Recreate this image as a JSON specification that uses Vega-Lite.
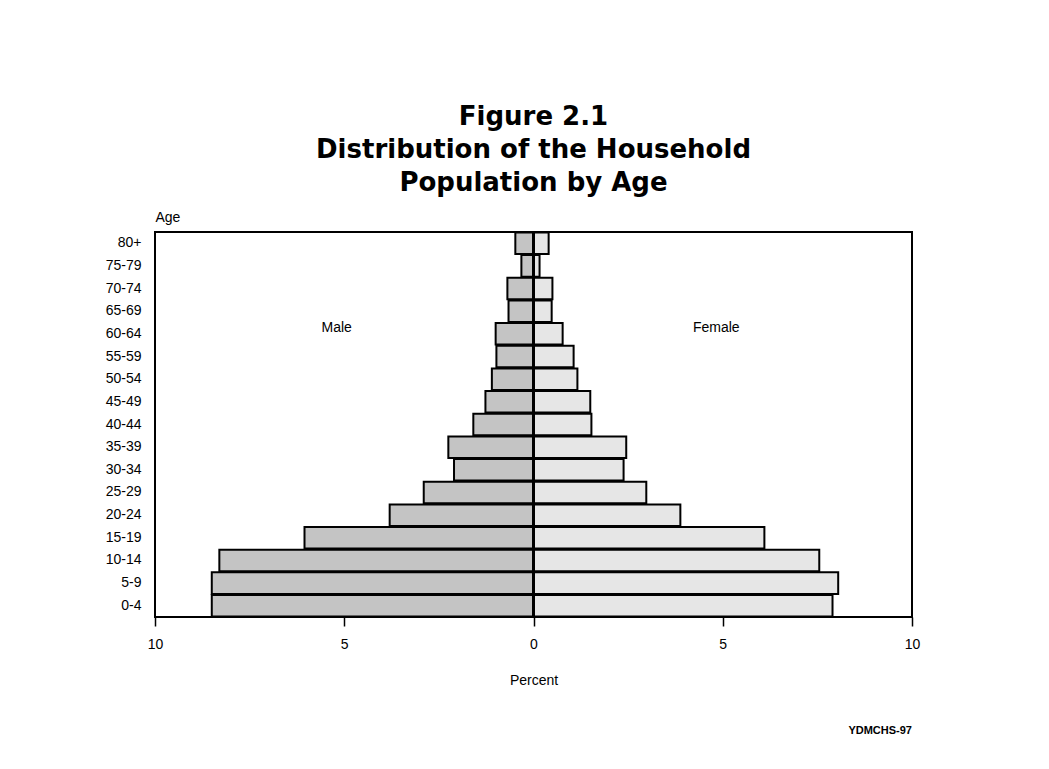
{
  "$schema": "https://vega.github.io/schema/vega-lite/v6.json",
  "width": 757,
  "height": 385,
  "autosize": {"type": "none"},
  "padding": {"left": 155, "top": 232, "right": 137, "bottom": 152},
  "background": "white",
  "title": {
    "text": ["Figure 2.1", "Distribution of the Household", "Population by Age"],
    "font": "DejaVu Sans",
    "fontSize": 26,
    "fontWeight": "bold",
    "lineHeight": 33,
    "anchor": "middle",
    "offset": 14,
    "color": "black"
  },
  "config": {
    "view": {"stroke": "black", "strokeWidth": 2},
    "font": "Liberation Sans",
    "axis": {"labelColor": "black", "titleColor": "black", "labelFont": "Liberation Sans", "titleFont": "Liberation Sans", "titleFontWeight": "normal"}
  },
  "data": {
    "values": [
      {"age": "80+", "sex": "Male", "value": -0.48},
      {"age": "75-79", "sex": "Male", "value": -0.32},
      {"age": "70-74", "sex": "Male", "value": -0.69},
      {"age": "65-69", "sex": "Male", "value": -0.66},
      {"age": "60-64", "sex": "Male", "value": -1.0},
      {"age": "55-59", "sex": "Male", "value": -0.98},
      {"age": "50-54", "sex": "Male", "value": -1.1},
      {"age": "45-49", "sex": "Male", "value": -1.27},
      {"age": "40-44", "sex": "Male", "value": -1.59},
      {"age": "35-39", "sex": "Male", "value": -2.25},
      {"age": "30-34", "sex": "Male", "value": -2.1},
      {"age": "25-29", "sex": "Male", "value": -2.9},
      {"age": "20-24", "sex": "Male", "value": -3.8},
      {"age": "15-19", "sex": "Male", "value": -6.05},
      {"age": "10-14", "sex": "Male", "value": -8.3},
      {"age": "5-9", "sex": "Male", "value": -8.5},
      {"age": "0-4", "sex": "Male", "value": -8.5},
      {"age": "80+", "sex": "Female", "value": 0.4},
      {"age": "75-79", "sex": "Female", "value": 0.16},
      {"age": "70-74", "sex": "Female", "value": 0.5},
      {"age": "65-69", "sex": "Female", "value": 0.48},
      {"age": "60-64", "sex": "Female", "value": 0.77},
      {"age": "55-59", "sex": "Female", "value": 1.06},
      {"age": "50-54", "sex": "Female", "value": 1.16},
      {"age": "45-49", "sex": "Female", "value": 1.5},
      {"age": "40-44", "sex": "Female", "value": 1.53},
      {"age": "35-39", "sex": "Female", "value": 2.45},
      {"age": "30-34", "sex": "Female", "value": 2.38},
      {"age": "25-29", "sex": "Female", "value": 2.98},
      {"age": "20-24", "sex": "Female", "value": 3.88},
      {"age": "15-19", "sex": "Female", "value": 6.1},
      {"age": "10-14", "sex": "Female", "value": 7.55},
      {"age": "5-9", "sex": "Female", "value": 8.05},
      {"age": "0-4", "sex": "Female", "value": 7.9}
    ]
  },
  "encoding": {
    "y": {
      "field": "age",
      "type": "nominal",
      "sort": ["80+", "75-79", "70-74", "65-69", "60-64", "55-59", "50-54", "45-49", "40-44", "35-39", "30-34", "25-29", "20-24", "15-19", "10-14", "5-9", "0-4"],
      "scale": {"paddingInner": 0.05, "paddingOuter": 0.02},
      "axis": {
        "title": "Age",
        "titleAngle": 0,
        "titleX": 0,
        "titleY": -8,
        "titleAlign": "left",
        "titleBaseline": "bottom",
        "titleFontSize": 14,
        "ticks": false,
        "domain": false,
        "labelFontSize": 14,
        "labelPadding": 14
      }
    }
  },
  "layer": [
    {
      "mark": {"type": "bar", "stroke": "black", "strokeWidth": 2},
      "encoding": {
        "x": {
          "field": "value",
          "type": "quantitative",
          "scale": {"domain": [-10, 10], "nice": false, "zero": false},
          "axis": {
            "values": [-10, -5, 0, 5, 10],
            "labelExpr": "abs(datum.value)",
            "labelFlush": false,
            "grid": false,
            "domain": false,
            "tickColor": "black",
            "tickSize": 9,
            "tickWidth": 1.5,
            "labelFontSize": 14,
            "labelPadding": 11,
            "title": "Percent",
            "titleFontSize": 14,
            "titlePadding": 22
          }
        },
        "fill": {
          "field": "sex",
          "type": "nominal",
          "scale": {"domain": ["Male", "Female"], "range": ["#c4c4c4", "#e6e6e6"]},
          "legend": null
        }
      }
    },
    {
      "mark": {"type": "rule", "color": "black", "strokeWidth": 3},
      "encoding": {"x": {"datum": 0}, "y": null}
    },
    {
      "data": {"values": [{"label": "Male", "pos": -5.2}, {"label": "Female", "pos": 4.83}]},
      "mark": {"type": "text", "fontSize": 14, "color": "black", "font": "Liberation Sans", "dy": -6},
      "encoding": {"x": {"field": "pos", "type": "quantitative"}, "y": {"datum": "60-64"}, "text": {"field": "label"}}
    },
    {
      "data": {"values": [{"label": "YDMCHS-97"}]},
      "mark": {"type": "text", "fontSize": 11, "fontWeight": "bold", "color": "black", "font": "Liberation Sans", "align": "right", "dy": 125},
      "encoding": {"x": {"datum": 10}, "y": {"datum": "0-4"}, "text": {"field": "label"}}
    }
  ]
}
